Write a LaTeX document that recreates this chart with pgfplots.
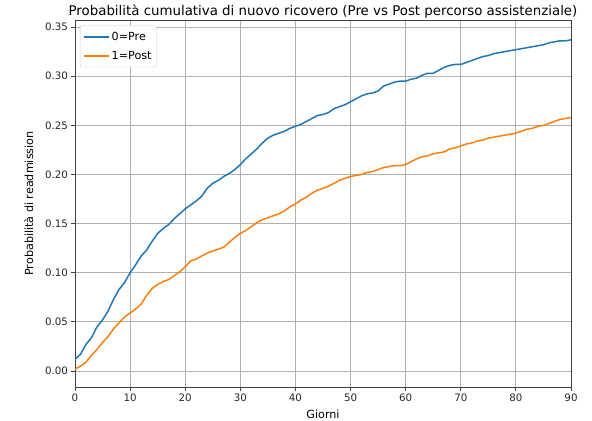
\documentclass[border=0pt]{standalone}
\usepackage{pgfplots}
\pgfplotsset{compat=1.18}
\usepackage{fontspec}
\setmainfont{DejaVu Sans}
\definecolor{mplblue}{HTML}{1F77B4}
\definecolor{mplorange}{HTML}{FF7F0E}
\definecolor{gridgray}{HTML}{B0B0B0}
\begin{document}
\begin{tikzpicture}
\begin{axis}[
  at={(0,0)}, anchor=south west,
  scale only axis, width=496bp, height=367bp,
  xmin=0, xmax=90, ymin=-0.0163, ymax=0.3572,
  xtick={0,10,...,90},
  ytick={0,0.05,0.1,0.15,0.2,0.25,0.3,0.35},
  yticklabel style={/pgf/number format/fixed,/pgf/number format/fixed zerofill,/pgf/number format/precision=2},
  /pgf/number format/assume math mode=true,
  scaled y ticks=false,
  tick label style={font=\fontsize{10.3}{12}\selectfont, text=black!85},
  grid=major,
  major grid style={gridgray, line width=0.8pt},
  axis line style={black!75, line width=0.8pt},
  tick style={black!75, line width=0.8pt},
  tick align=outside,
  major tick length=3.5bp,
  xtick pos=bottom, ytick pos=left,
  title={Probabilità cumulativa di nuovo ricovero (Pre vs Post percorso assistenziale)},
  title style={font=\fontsize{13.4}{15}\selectfont, yshift=-8bp},
  xlabel={Giorni},
  ylabel={Probabilità di readmission},
  label style={font=\fontsize{11.2}{13}\selectfont},
  xlabel style={yshift=-1bp},
  ylabel style={yshift=5bp},
  legend cell align=left,
  legend style={font=\fontsize{11.2}{13}\selectfont, draw=black!20, rounded corners=2pt, inner xsep=3pt, inner ysep=4.5pt, at={(0.01,0.985)}, anchor=north west, row sep=5pt},
  legend image code/.code={\draw[#1, line width=1.6pt] (0bp,0bp) -- (25bp,0bp);},
]
\addplot[mplblue, line width=1.5pt] coordinates {
(0,0.012)(1,0.017)(2,0.027)(3,0.034)(4,0.045)(5,0.052)(6,0.061)(7,0.073)(8,0.083)(9,0.090)
(10,0.100)(11,0.108)(12,0.117)(13,0.123)(14,0.132)(15,0.140)(16,0.145)(17,0.149)(18,0.155)(19,0.160)
(20,0.165)(21,0.169)(22,0.173)(23,0.178)(24,0.186)(25,0.191)(26,0.194)(27,0.198)(28,0.201)(29,0.205)
(30,0.210)(31,0.216)(32,0.221)(33,0.226)(34,0.232)(35,0.237)(36,0.240)(37,0.242)(38,0.244)(39,0.247)
(40,0.249)(41,0.251)(42,0.254)(43,0.257)(44,0.260)(45,0.261)(46,0.263)(47,0.267)(48,0.269)(49,0.271)
(50,0.274)(51,0.277)(52,0.280)(53,0.282)(54,0.283)(55,0.285)(56,0.290)(57,0.292)(58,0.294)(59,0.295)
(60,0.295)(61,0.297)(62,0.298)(63,0.301)(64,0.303)(65,0.303)(66,0.306)(67,0.309)(68,0.311)(69,0.312)
(70,0.312)(71,0.314)(72,0.316)(73,0.318)(74,0.320)(75,0.321)(76,0.323)(77,0.324)(78,0.325)(79,0.326)
(80,0.327)(81,0.328)(82,0.329)(83,0.330)(84,0.331)(85,0.332)(86,0.334)(87,0.335)(88,0.336)(89,0.336)(90,0.337)
};
\addlegendentry{0=Pre}
\addplot[mplorange, line width=1.5pt] coordinates {
(0,0.002)(1,0.005)(2,0.009)(3,0.016)(4,0.022)(5,0.029)(6,0.035)(7,0.043)(8,0.049)(9,0.055)
(10,0.059)(11,0.063)(12,0.068)(13,0.077)(14,0.084)(15,0.088)(16,0.091)(17,0.093)(18,0.097)(19,0.101)
(20,0.106)(21,0.112)(22,0.114)(23,0.117)(24,0.120)(25,0.122)(26,0.124)(27,0.126)(28,0.131)(29,0.136)
(30,0.140)(31,0.143)(32,0.147)(33,0.151)(34,0.154)(35,0.156)(36,0.158)(37,0.160)(38,0.163)(39,0.167)
(40,0.170)(41,0.174)(42,0.177)(43,0.181)(44,0.184)(45,0.186)(46,0.188)(47,0.191)(48,0.194)(49,0.196)
(50,0.198)(51,0.199)(52,0.200)(53,0.202)(54,0.203)(55,0.205)(56,0.207)(57,0.208)(58,0.209)(59,0.209)
(60,0.210)(61,0.213)(62,0.216)(63,0.218)(64,0.219)(65,0.221)(66,0.222)(67,0.223)(68,0.226)(69,0.227)
(70,0.229)(71,0.231)(72,0.232)(73,0.234)(74,0.235)(75,0.237)(76,0.238)(77,0.239)(78,0.240)(79,0.241)
(80,0.242)(81,0.244)(82,0.246)(83,0.247)(84,0.249)(85,0.250)(86,0.252)(87,0.254)(88,0.256)(89,0.257)(90,0.258)
};
\addlegendentry{1=Post}
\end{axis}
\pgfresetboundingbox
\path[use as bounding box] (-75bp,-34bp) rectangle (517bp,387bp);
\end{tikzpicture}
\end{document}
